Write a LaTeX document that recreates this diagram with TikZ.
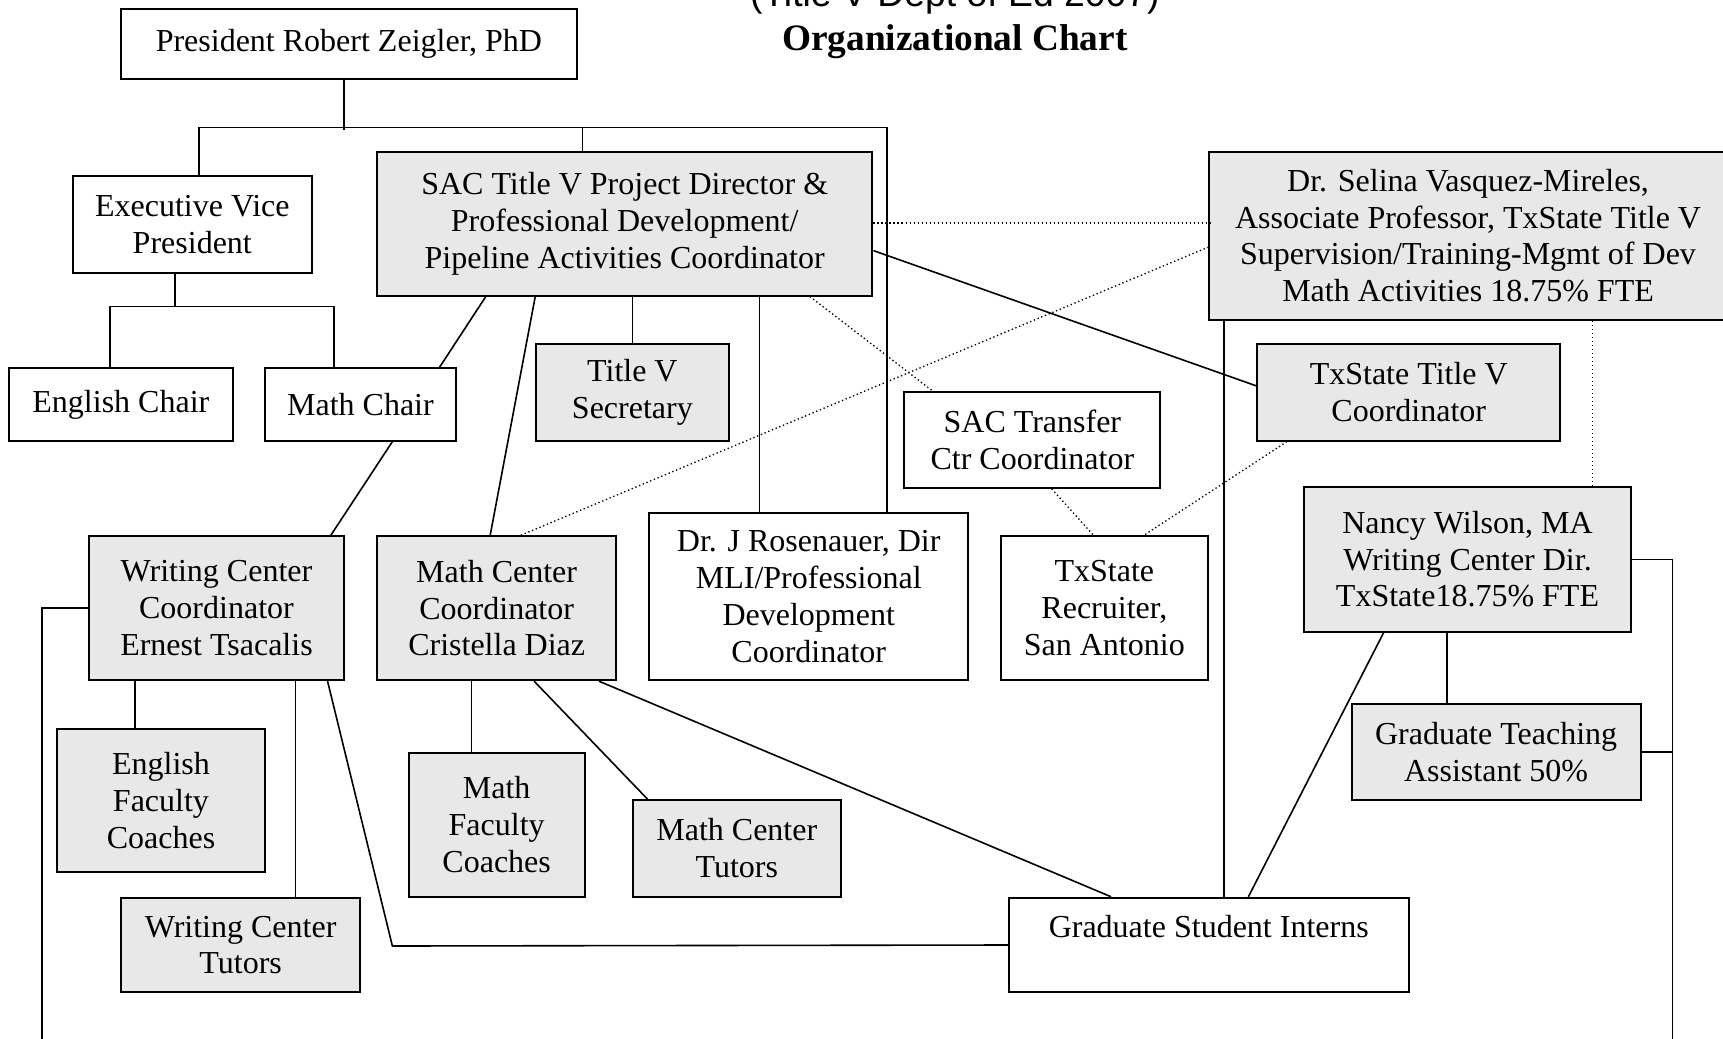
\documentclass[tikz,border=0pt]{standalone}
\usepackage{fontspec}
\setmainfont{Liberation Serif}
\newfontfamily\titlesans{Liberation Sans}
\usepackage{tikz}
\usetikzlibrary{calc,positioning}
\tikzset{every picture/.style={
  line join=miter                 % Sharp corners on the connectors.
  }
}

\begin{document}
\begin{tikzpicture}[
    x=0.412pt,y=-0.412pt,
    org/.style={
      rectangle,
      draw,
      line width=0.75pt,
      inner sep=0pt,
      fill=black!#1,
      align=center,
      font=\fontsize{12}{13.8}\selectfont
    },
    org/.default=0,
    link/.style={line width=0.6pt},
    dots/.style={line width=0.5pt,densely dotted}
  ]

    % Fix the page to the size of the chart.
    \useasboundingbox (0,0) rectangle (1568,945.5);
    \clip (0,0) rectangle (1568,945.5);

    % Title of the chart (its first line runs off the top).
    \node[anchor=base,font=\titlesans\fontsize{14}{16}\selectfont] (sub)
      at (869,6) {(Title V Dept of Ed 2007)};
    \node[anchor=base,font=\bfseries\fontsize{14}{16}\selectfont] (ttl)
      at (869,46) {Organizational Chart};

    % Upper levels.
    \node[org,minimum width=415*0.412pt,minimum height=64*0.412pt] (pres)
      at (317.5,40) {President Robert Zeigler, PhD};
    \node[org,minimum width=218*0.412pt,minimum height=88*0.412pt] (evp)
      at (175,204) {Executive Vice\\President};
    \node[org,minimum width=204*0.412pt,minimum height=66*0.412pt] (eng)
      at (110,368) {English Chair};
    \node[org,minimum width=174*0.412pt,minimum height=66*0.412pt] (mch)
      at (328,368) {Math Chair};
    \node[org=9,minimum width=451*0.412pt,minimum height=131*0.412pt] (sac)
      at (568.5,203.5) {SAC Title V Project Director \&\\Professional Development/\\Pipeline Activities Coordinator};
    \node[org=9,minimum width=175*0.412pt,minimum height=88*0.412pt] (sec)
      at (575.5,357) {Title V\\Secretary};
    \node[org=9,minimum width=472*0.412pt,minimum height=153*0.412pt] (sel)
      at (1336,214.5) {Dr. Selina Vasquez-Mireles,\\Associate Professor, TxState Title V\\Supervision/Training-Mgmt of Dev\\Math Activities 18.75\% FTE};
    \node[org=9,minimum width=276*0.412pt,minimum height=88*0.412pt] (txc)
      at (1282,357) {TxState Title V\\Coordinator};
    \node[org,minimum width=233*0.412pt,minimum height=87*0.412pt] (stc)
      at (939.5,400.5) {SAC Transfer\\Ctr Coordinator};

    % Middle level.
    \node[org=9,minimum width=232*0.412pt,minimum height=131*0.412pt] (wcc)
      at (197,553.5) {Writing Center\\Coordinator\\Ernest Tsacalis};
    \node[org=9,minimum width=218*0.412pt,minimum height=131*0.412pt] (mcc)
      at (452,553.5) {Math Center\\Coordinator\\Cristella Diaz};
    \node[org,minimum width=290*0.412pt,minimum height=152*0.412pt] (ros)
      at (736,543) {Dr. J Rosenauer, Dir\\MLI/Professional\\Development\\Coordinator};
    \node[org,minimum width=188*0.412pt,minimum height=131*0.412pt] (rec)
      at (1005,553.5) {TxState\\Recruiter,\\San Antonio};
    \node[org=9,minimum width=297*0.412pt,minimum height=132*0.412pt] (nw)
      at (1335.5,509) {Nancy Wilson, MA\\Writing Center Dir.\\TxState18.75\% FTE};
    \node[org=9,minimum width=263*0.412pt,minimum height=87*0.412pt] (gta)
      at (1361.5,684.5) {Graduate Teaching\\Assistant 50\%};

    % Bottom level.
    \node[org=9,minimum width=189*0.412pt,minimum height=131*0.412pt] (efc)
      at (146.5,728.5) {English\\Faculty\\Coaches};
    \node[org=9,minimum width=218*0.412pt,minimum height=86*0.412pt] (wct)
      at (219,860) {Writing Center\\Tutors};
    \node[org=9,minimum width=160*0.412pt,minimum height=131*0.412pt] (mfc)
      at (452,750.5) {Math\\Faculty\\Coaches};
    \node[org=9,minimum width=189*0.412pt,minimum height=88*0.412pt] (mct)
      at (670.5,772) {Math Center\\Tutors};
    \node[org,minimum width=364*0.412pt,minimum height=86*0.412pt] (gsi)
      at (1100,860) {Graduate Student Interns\\\mbox{}};

    % Free ends of the two long side lines.
    \coordinate (lend) at (38,960);
    \coordinate (rend) at (1522,960);

    % Lines of authority from the president.
    \draw[link] ($(pres.south west)+(204,0)$) -- ++(0,45);
    \draw[link] ($(evp.north west)+(116,0)$) -- ++(0,-43)
      -| ($(ros.north west)+(217,0)$);
    \draw[link] ($(sac.north west)+(188,0)$) -- ++(0,-21);
    \draw[link] ($(evp.south west)+(94,0)$) -- ++(0,30) coordinate (evpj);
    \draw[link] ($(eng.north west)+(93,0)$) |- (evpj)
      -| ($(mch.north west)+(64,0)$);

    % Lines from the project director.
    \draw[link] ($(sac.south west)+(100,0)$) -- ($(mch.north west)+(160,0)$);
    \draw[link] ($(sac.south west)+(145,0)$) -- ($(mcc.north west)+(104,0)$);
    \draw[link] (sac.south -| sec.north) -- (sec.north);
    \draw[link] ($(sac.south west)+(349,0)$) -- ++(0,198);
    \draw[link] ($(sac.north east)+(0,91)$) -- ($(txc.north west)+(0,39)$);
    \draw[dots] ($(sac.north east)+(0,66)$) -- ++(306,0);
    \draw[dots] ($(sac.south west)+(395,0)$) -- ($(stc.north west)+(27,0)$);
    \draw[dots] ($(mcc.north west)+(132,0)$) -- ($(sel.north west)+(0,88)$);
    \draw[link] ($(mch.south west)+(117,0)$) -- ($(wcc.north west)+(221,0)$);

    % Links to the recruiter.
    \draw[dots] ($(stc.south west)+(135,0)$) -- ($(rec.north west)+(85,0)$);
    \draw[dots] ($(txc.south west)+(28,0)$) -- ($(rec.north west)+(131,0)$);

    % Lines from the TxState side.
    \draw[link] ($(sel.south west)+(15,0)$) -- ++(0,526);
    \draw[dots] ($(sel.south west)+(350,0)$) -- ++(0,152);
    \draw[link] ($(nw.south west)+(131,0)$) -- ++(0,66);
    \draw[link] ($(nw.south west)+(73,0)$) -- ($(gsi.north west)+(219,0)$);
    \draw[link] (nw.east) -| (rend);
    \draw[link] (gta.east) -- (gta.east -| rend);

    % Lines from the two centre coordinators.
    \draw[link] (wcc.west) -| (lend);
    \draw[link] ($(wcc.south west)+(43,0)$) -- ++(0,44);
    \draw[link] ($(wcc.south west)+(189,0)$) -- ++(0,198);
    \draw[link] ($(wcc.south west)+(218,0)$) -- ++(59,241) -- (gsi.west);
    \draw[link] ($(mcc.south west)+(87,0)$) -- ++(0,66);
    \draw[link] ($(mcc.south west)+(144,0)$) -- ($(mct.north west)+(14,0)$);
    \draw[link] ($(mcc.south west)+(203,0)$) -- ($(gsi.north west)+(94,0)$);
  \end{tikzpicture}
\end{document}
